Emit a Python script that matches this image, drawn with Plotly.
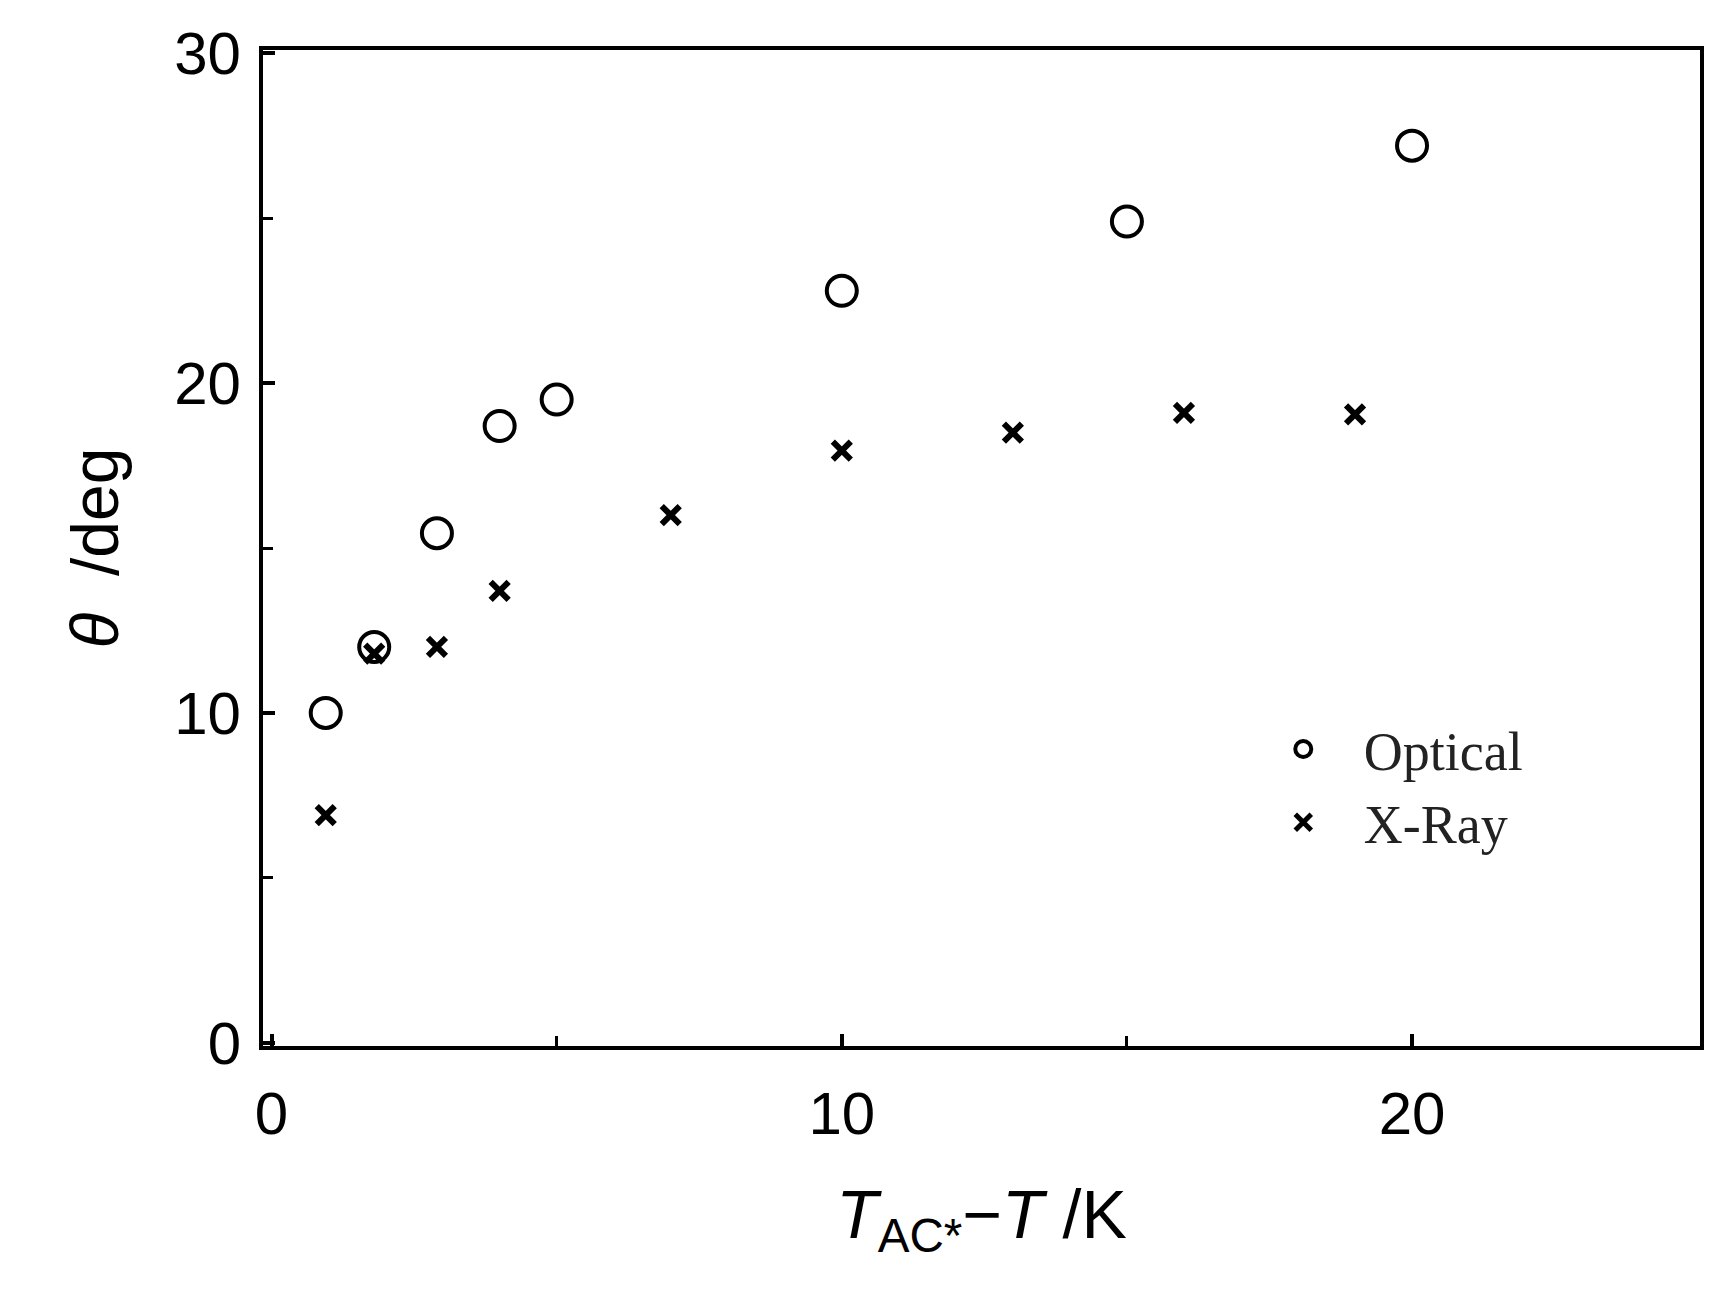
import plotly.graph_objects as go

opt_x = [0.95, 1.8, 2.9, 4.0, 5.0, 10.0, 15.0, 20.0]
opt_y = [10.0, 12.0, 15.45, 18.7, 19.5, 22.8, 24.9, 27.2]
xr_x = [0.95, 1.8, 2.9, 4.0, 7.0, 10.0, 13.0, 16.0, 19.0]
xr_y = [6.9, 11.8, 12.0, 13.7, 16.0, 17.95, 18.5, 19.1, 19.05]

fig = go.Figure()
fig.add_trace(go.Scatter(x=opt_x, y=opt_y, mode="markers", name="   Optical",
    marker=dict(symbol="circle-open", size=30, color="black", line=dict(width=4))))
fig.add_trace(go.Scatter(x=xr_x, y=xr_y, mode="markers", name="   X-Ray",
    marker=dict(symbol="x-thin-open", size=18, color="black", line=dict(width=6))))

axis_common = dict(showgrid=False, zeroline=False, showline=True, linecolor="black",
                   linewidth=4, mirror=True, ticks="inside", ticklen=12, tickwidth=4,
                   tickcolor="black", tickfont=dict(family="Liberation Sans", size=60, color="black"))
fig.update_xaxes(range=[-0.15, 25.05], tickvals=[0, 10, 20], ticklabelstandoff=12,
    minor=dict(tickvals=[5, 15], ticks="inside", ticklen=10, tickwidth=3, tickcolor="black"),
    title=dict(text="<i>T</i><sub>AC*</sub>−<i>T</i> /K", font=dict(family="Liberation Sans", size=68, color="black"), standoff=45),
    **axis_common)
fig.update_yaxes(range=[-0.1, 30.1], tickvals=[0, 10, 20, 30], ticklabelstandoff=6,
    minor=dict(tickvals=[5, 15, 25], ticks="inside", ticklen=10, tickwidth=3, tickcolor="black"),
    title=dict(text="<i>θ</i>  /deg", font=dict(family="Liberation Sans", size=66, color="black"), standoff=35),
    **axis_common)
fig.update_layout(width=1735, height=1299, plot_bgcolor="white", paper_bgcolor="white",
    margin=dict(l=255, r=43, t=42, b=261),
    legend=dict(x=0.71, y=0.34, xanchor="left", yanchor="top", bgcolor="rgba(0,0,0,0)",
                font=dict(family="Liberation Serif", size=54, color="#222"), itemsizing="trace",
                tracegroupgap=10))
fig.write_html("out.html")
